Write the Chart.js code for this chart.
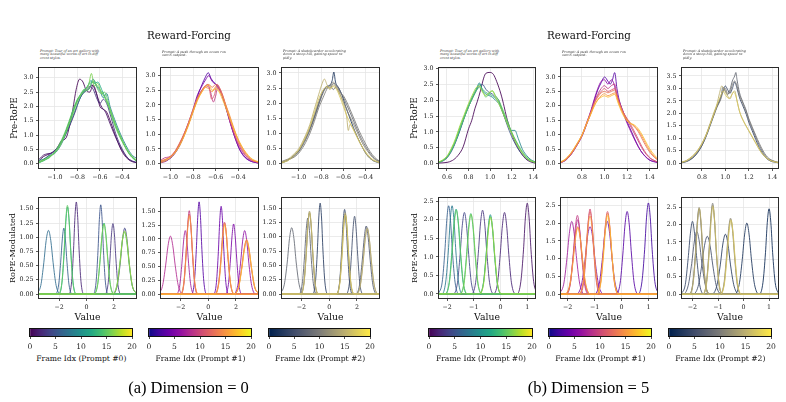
<!DOCTYPE html>
<html><head><meta charset="utf-8">
<script src="https://cdn.jsdelivr.net/npm/chart.js@4.4.0/dist/chart.umd.min.js"></script>
<style>
html,body{margin:0;padding:0;background:#fff}
body{width:786px;height:402px;position:relative;overflow:hidden;font-family:"DejaVu Serif",serif;color:#111}
canvas{position:absolute}
.lbl{position:absolute;white-space:nowrap;line-height:1}
.prompt{position:absolute;white-space:pre;font-style:italic;font-size:6.7px;line-height:7.4px;color:#333;transform:scale(0.5);transform-origin:0 0}
</style></head><body>
<script>
// ---------------- tick values ----------------
const aPreXTicks=[-1.0,-0.8,-0.6,-0.4];
const aPreYTicks=[0,0.5,1.0,1.5,2.0,2.5,3.0];
const aRopeXTicks=[-2,0,2];
const aRopeYTicks=[0,0.25,0.5,0.75,1.0,1.25,1.5];
const bPre0XTicks=[0.6,0.8,1.0,1.2,1.4];
const bPreXTicks=[0.8,1.0,1.2,1.4];
const bPreYTicks=[0,0.5,1.0,1.5,2.0,2.5,3.0];
const bPre2YTicks=[0,0.5,1.0,1.5,2.0,2.5,3.0,3.5];
const bRopeXTicks=[-2,-1,0,1];
const bRopeYTicks=[0,0.5,1.0,1.5,2.0,2.5];
const cbarTicks=[0,5,10,15,20];
// axis limits [xmin,xmax,ymin,ymax]
const aPre0Lim=[-1.14,-0.28,-0.15,3.34], aPre1Lim=[-1.084,-0.224,-0.15,3.26], aPre2Lim=[-1.15,-0.28,-0.14,3.165];
const aRope0Lim=[-3.46,3.61,-0.07,1.69], aRope1Lim=[-3.41,3.59,-0.07,1.74], aRope2Lim=[-3.40,3.59,-0.07,1.68];
const bPre0Lim=[0.526,1.416,-0.137,3.02], bPre1Lim=[0.614,1.465,-0.15,3.31], bPre2Lim=[0.63,1.45,-0.19,3.82];
const bRope0Lim=[-2.30,1.29,-0.11,2.59], bRope1Lim=[-2.25,1.32,-0.11,2.71], bRope2Lim=[-2.41,1.35,-0.11,2.76];

const promptTexts=[
 "Prompt: Tour of an art gallery with\nmany beautiful works of art in diff\nerent styles.",
 "Prompt: A push through an ocean res\nearch outpost.",
 "Prompt: A skateboarder accelerating\ndown a steep hill, gaining speed ra\npidly."];
const cbarLabels=["Frame Idx (Prompt #0)","Frame Idx (Prompt #1)","Frame Idx (Prompt #2)"];

// ---------------- series: [frame index, [[x,y],...]] ----------------
const aPre0=[
[0,[[-1.14,0.1],[-1.1,0.25],[-1.06,0.32],[-1.02,0.4],[-0.98,0.55],[-0.94,0.8],[-0.9,0.9],[-0.87,1.3],[-0.84,1.9],[-0.81,2.6],[-0.78,2.95],[-0.75,2.85],[-0.72,2.55],[-0.69,2.5],[-0.66,2.75],[-0.63,2.45],[-0.6,2.0],[-0.57,1.9],[-0.54,1.8],[-0.5,1.4],[-0.46,0.95],[-0.42,0.55],[-0.38,0.28],[-0.33,0.1],[-0.28,0.04]]],
[1,[[-1.14,0.15],[-1.1,0.3],[-1.06,0.35],[-1.02,0.38],[-0.98,0.5],[-0.94,0.75],[-0.9,1.05],[-0.86,1.4],[-0.82,1.8],[-0.78,2.25],[-0.74,2.5],[-0.7,2.6],[-0.67,2.75],[-0.64,2.55],[-0.61,2.2],[-0.58,1.95],[-0.55,1.8],[-0.52,1.5],[-0.48,1.1],[-0.44,0.75],[-0.4,0.45],[-0.36,0.22],[-0.31,0.08],[-0.28,0.04]]],
[3,[[-1.14,0.05],[-1.08,0.2],[-1.02,0.4],[-0.97,0.6],[-0.92,0.95],[-0.88,1.35],[-0.84,1.8],[-0.8,2.2],[-0.76,2.45],[-0.72,2.6],[-0.69,2.7],[-0.66,2.6],[-0.63,2.3],[-0.6,2.1],[-0.57,2.25],[-0.54,2.1],[-0.5,1.6],[-0.46,1.05],[-0.42,0.65],[-0.38,0.35],[-0.34,0.15],[-0.28,0.05]]],
[9,[[-1.14,0.12],[-1.1,0.16],[-1.05,0.28],[-1.0,0.36],[-0.95,0.62],[-0.9,1.05],[-0.85,1.55],[-0.8,2.05],[-0.76,2.4],[-0.72,2.55],[-0.69,2.65],[-0.66,2.95],[-0.63,2.7],[-0.6,2.55],[-0.57,2.3],[-0.54,2.45],[-0.51,2.0],[-0.47,1.55],[-0.43,1.15],[-0.39,0.8],[-0.35,0.5],[-0.31,0.28],[-0.28,0.2]]],
[12,[[-1.14,0.03],[-1.08,0.15],[-1.03,0.3],[-0.98,0.5],[-0.93,0.85],[-0.88,1.35],[-0.83,1.95],[-0.79,2.3],[-0.75,2.5],[-0.71,2.7],[-0.68,2.9],[-0.65,2.8],[-0.62,2.85],[-0.58,2.55],[-0.55,2.3],[-0.52,2.0],[-0.48,1.55],[-0.44,1.15],[-0.4,0.8],[-0.36,0.48],[-0.32,0.25],[-0.28,0.1]]],
[14,[[-1.14,0.05],[-1.1,0.1],[-1.05,0.22],[-1.0,0.4],[-0.95,0.7],[-0.9,1.15],[-0.85,1.7],[-0.8,2.2],[-0.76,2.5],[-0.72,2.65],[-0.69,2.8],[-0.66,2.85],[-0.63,2.75],[-0.6,2.6],[-0.57,2.4],[-0.54,2.15],[-0.5,1.75],[-0.46,1.3],[-0.42,0.95],[-0.38,0.62],[-0.34,0.36],[-0.3,0.18],[-0.28,0.12]]],
[15,[[-1.14,0.08],[-1.1,0.14],[-1.05,0.2],[-1.0,0.42],[-0.95,0.75],[-0.9,1.2],[-0.85,1.75],[-0.8,2.25],[-0.77,2.4],[-0.74,2.6],[-0.71,2.55],[-0.68,2.75],[-0.65,2.9],[-0.62,2.6],[-0.59,2.45],[-0.56,2.5],[-0.53,2.2],[-0.5,1.7],[-0.46,1.25],[-0.42,0.9],[-0.38,0.6],[-0.34,0.33],[-0.3,0.16],[-0.28,0.1]]],
[16,[[-1.14,0.04],[-1.1,0.12],[-1.05,0.25],[-1.0,0.38],[-0.95,0.65],[-0.9,1.1],[-0.85,1.62],[-0.8,2.15],[-0.76,2.45],[-0.73,2.55],[-0.7,2.75],[-0.675,3.15],[-0.65,2.7],[-0.62,2.8],[-0.59,2.5],[-0.56,2.35],[-0.53,2.1],[-0.5,1.8],[-0.46,1.35],[-0.42,0.98],[-0.38,0.64],[-0.34,0.38],[-0.3,0.2],[-0.28,0.14]]]
];
const aPre1=[
[3,[[-1.084,0.05],[-1.04,0.1],[-1.0,0.18],[-0.96,0.35],[-0.92,0.6],[-0.88,0.95],[-0.84,1.35],[-0.8,1.8],[-0.76,2.3],[-0.72,2.7],[-0.69,2.95],[-0.665,3.1],[-0.64,2.9],[-0.61,2.75],[-0.58,2.65],[-0.55,2.4],[-0.52,2.05],[-0.49,1.65],[-0.46,1.25],[-0.43,0.9],[-0.4,0.6],[-0.36,0.32],[-0.32,0.16],[-0.28,0.07],[-0.224,0.02]]],
[5,[[-1.084,0.03],[-1.04,0.08],[-1.0,0.2],[-0.96,0.4],[-0.92,0.65],[-0.88,1.0],[-0.84,1.4],[-0.8,1.85],[-0.76,2.35],[-0.72,2.65],[-0.69,2.85],[-0.66,3.0],[-0.63,2.8],[-0.6,2.7],[-0.57,2.55],[-0.54,2.3],[-0.51,1.95],[-0.48,1.55],[-0.45,1.15],[-0.42,0.8],[-0.39,0.5],[-0.35,0.25],[-0.3,0.1],[-0.224,0.02]]],
[9,[[-1.084,0.12],[-1.05,0.2],[-1.02,0.22],[-0.98,0.3],[-0.94,0.5],[-0.9,0.8],[-0.86,1.15],[-0.82,1.55],[-0.78,2.0],[-0.74,2.4],[-0.7,2.6],[-0.67,2.7],[-0.645,2.45],[-0.62,2.1],[-0.6,2.3],[-0.58,2.6],[-0.56,2.5],[-0.53,2.2],[-0.5,1.8],[-0.47,1.4],[-0.44,1.05],[-0.41,0.75],[-0.37,0.45],[-0.33,0.24],[-0.28,0.1],[-0.224,0.04]]],
[11,[[-1.084,0.08],[-1.04,0.15],[-1.0,0.24],[-0.96,0.42],[-0.92,0.68],[-0.88,1.0],[-0.84,1.38],[-0.8,1.78],[-0.76,2.2],[-0.72,2.5],[-0.69,2.65],[-0.66,2.6],[-0.635,2.2],[-0.61,2.35],[-0.585,2.7],[-0.56,2.55],[-0.53,2.25],[-0.5,1.85],[-0.47,1.45],[-0.44,1.1],[-0.41,0.8],[-0.37,0.5],[-0.33,0.27],[-0.28,0.12],[-0.224,0.05]]],
[13,[[-1.084,0.06],[-1.04,0.14],[-1.0,0.25],[-0.96,0.42],[-0.92,0.7],[-0.88,1.02],[-0.84,1.4],[-0.8,1.85],[-0.76,2.25],[-0.72,2.5],[-0.69,2.65],[-0.66,2.7],[-0.63,2.6],[-0.6,2.7],[-0.57,2.6],[-0.54,2.35],[-0.51,2.0],[-0.48,1.65],[-0.45,1.3],[-0.42,0.98],[-0.39,0.7],[-0.35,0.42],[-0.31,0.22],[-0.27,0.1],[-0.224,0.05]]],
[15,[[-1.084,0.1],[-1.04,0.15],[-1.0,0.22],[-0.96,0.38],[-0.92,0.62],[-0.88,0.95],[-0.84,1.35],[-0.8,1.8],[-0.76,2.2],[-0.72,2.45],[-0.69,2.6],[-0.66,2.55],[-0.63,2.45],[-0.6,2.62],[-0.57,2.5],[-0.54,2.3],[-0.51,2.0],[-0.48,1.7],[-0.45,1.35],[-0.42,1.02],[-0.39,0.75],[-0.35,0.46],[-0.31,0.25],[-0.27,0.12],[-0.224,0.06]]],
[17,[[-1.084,0.04],[-1.04,0.1],[-1.0,0.2],[-0.96,0.36],[-0.92,0.6],[-0.88,0.92],[-0.84,1.3],[-0.8,1.75],[-0.76,2.15],[-0.72,2.45],[-0.69,2.62],[-0.66,2.68],[-0.63,2.5],[-0.6,2.55],[-0.57,2.45],[-0.54,2.2],[-0.51,1.9],[-0.48,1.6],[-0.45,1.3],[-0.42,1.0],[-0.39,0.74],[-0.35,0.48],[-0.31,0.28],[-0.27,0.14],[-0.224,0.07]]]
];
const aPre2=[
[2,[[-1.15,0.03],[-1.1,0.12],[-1.05,0.25],[-1.0,0.42],[-0.95,0.75],[-0.9,1.15],[-0.86,1.55],[-0.82,2.0],[-0.78,2.4],[-0.75,2.55],[-0.72,2.6],[-0.7,2.75],[-0.685,3.03],[-0.67,2.7],[-0.64,2.5],[-0.61,2.25],[-0.58,1.9],[-0.55,1.6],[-0.51,1.2],[-0.47,0.85],[-0.43,0.55],[-0.39,0.3],[-0.34,0.12],[-0.28,0.03]]],
[8,[[-1.15,0.05],[-1.1,0.12],[-1.05,0.22],[-1.0,0.4],[-0.95,0.7],[-0.9,1.1],[-0.86,1.5],[-0.82,1.95],[-0.78,2.35],[-0.75,2.55],[-0.72,2.5],[-0.69,2.65],[-0.66,2.6],[-0.63,2.4],[-0.6,2.2],[-0.57,1.95],[-0.54,1.7],[-0.5,1.35],[-0.46,1.0],[-0.42,0.7],[-0.38,0.45],[-0.34,0.25],[-0.3,0.12],[-0.28,0.08]]],
[10,[[-1.15,0.08],[-1.1,0.15],[-1.05,0.2],[-1.0,0.35],[-0.95,0.62],[-0.9,1.0],[-0.86,1.4],[-0.82,1.85],[-0.78,2.2],[-0.75,2.45],[-0.72,2.6],[-0.69,2.45],[-0.66,2.55],[-0.63,2.35],[-0.6,2.25],[-0.57,2.05],[-0.54,1.8],[-0.5,1.45],[-0.46,1.1],[-0.42,0.8],[-0.38,0.52],[-0.34,0.3],[-0.3,0.15],[-0.28,0.1]]],
[11,[[-1.15,0.04],[-1.1,0.1],[-1.05,0.25],[-1.0,0.45],[-0.95,0.78],[-0.9,1.2],[-0.86,1.62],[-0.82,2.05],[-0.78,2.4],[-0.75,2.5],[-0.72,2.55],[-0.69,2.7],[-0.66,2.5],[-0.63,2.3],[-0.6,2.05],[-0.57,1.8],[-0.54,1.55],[-0.5,1.25],[-0.46,0.92],[-0.42,0.62],[-0.38,0.4],[-0.34,0.22],[-0.3,0.1],[-0.28,0.07]]],
[15,[[-1.15,0.06],[-1.1,0.14],[-1.05,0.3],[-1.0,0.5],[-0.95,0.85],[-0.9,1.3],[-0.86,1.8],[-0.82,2.3],[-0.79,2.65],[-0.77,2.8],[-0.745,2.6],[-0.72,2.45],[-0.69,2.6],[-0.66,2.5],[-0.63,2.3],[-0.6,2.0],[-0.57,1.55],[-0.555,1.1],[-0.54,1.3],[-0.51,1.15],[-0.47,0.85],[-0.43,0.55],[-0.39,0.3],[-0.34,0.12],[-0.28,0.04]]],
[17,[[-1.15,0.03],[-1.1,0.1],[-1.05,0.24],[-1.0,0.45],[-0.95,0.78],[-0.9,1.22],[-0.86,1.68],[-0.82,2.15],[-0.78,2.45],[-0.75,2.55],[-0.72,2.5],[-0.69,2.55],[-0.66,2.45],[-0.63,2.2],[-0.6,1.9],[-0.57,1.6],[-0.54,1.35],[-0.5,1.05],[-0.46,0.75],[-0.42,0.5],[-0.38,0.3],[-0.34,0.15],[-0.28,0.05]]]
];
const aRope0=[
[2,[[-3.46,0],[-1.28,0],[-1.08,.22],[-0.94,.79],[-0.84,1.35],[-0.74,1.62],[-0.64,1.35],[-0.54,.79],[-0.4,.22],[-0.2,0],[3.61,0]]],
[3,[[-3.46,0],[1.35,0],[1.57,.17],[1.71,.6],[1.82,1.04],[1.93,1.24],[2.04,1.04],[2.15,.6],[2.29,.17],[2.51,0],[3.61,0]]],
[4,[[-3.46,0],[1.93,0],[2.25,.16],[2.47,.56],[2.63,.97],[2.79,1.16],[2.95,.97],[3.11,.56],[3.33,.16],[3.65,0]]],
[5,[[-3.46,0],[0.5,0],[0.7,.21],[0.84,.76],[0.94,1.31],[1.04,1.57],[1.14,1.31],[1.24,.76],[1.38,.21],[1.58,0],[3.61,0]]],
[6,[[-3.46,0],[-2.26,0],[-2.03,.16],[-1.88,.56],[-1.76,.97],[-1.65,1.16],[-1.54,.97],[-1.42,.56],[-1.27,.16],[-1.04,0],[3.61,0]]],
[7,[[-3.67,0],[-3.33,.15],[-3.11,.55],[-2.94,.94],[-2.77,1.12],[-2.6,.94],[-2.43,.55],[-2.21,.15],[-1.87,0],[3.61,0]]],
[12,[[-3.46,0],[-2.02,0],[-1.78,.21],[-1.62,.75],[-1.5,1.28],[-1.38,1.53],[-1.26,1.28],[-1.14,.75],[-0.98,.21],[-0.74,0],[3.61,0]]],
[15,[[-3.46,0],[-2.03,0],[-1.79,.21],[-1.63,.76],[-1.51,1.3],[-1.39,1.56],[-1.27,1.3],[-1.15,.76],[-0.99,.21],[-0.75,0],[3.61,0]]],
[13,[[-3.46,0],[0.54,0],[0.82,.17],[1.0,.61],[1.14,1.04],[1.28,1.25],[1.42,1.04],[1.56,.61],[1.74,.17],[2.02,0],[3.61,0]]],
[16,[[-3.46,0],[0.53,0],[0.81,.17],[0.99,.6],[1.13,1.03],[1.27,1.23],[1.41,1.03],[1.55,.6],[1.73,.17],[2.01,0],[3.61,0]]],
[14,[[-3.46,0],[1.87,0],[2.21,.15],[2.43,.53],[2.6,.91],[2.77,1.09],[2.94,.91],[3.11,.53],[3.33,.15],[3.67,0]]],
[17,[[-3.46,0],[1.88,0],[2.22,.15],[2.44,.54],[2.61,.93],[2.78,1.11],[2.95,.93],[3.12,.54],[3.34,.15],[3.68,0]]]
];
const aRope1=[
[3,[[-3.41,0],[-1.2,0],[-1.0,.23],[-0.86,.81],[-0.76,1.39],[-0.66,1.67],[-0.56,1.39],[-0.46,.81],[-0.32,.23],[-0.12,0],[3.59,0]]],
[4,[[-3.41,0],[0.39,0],[0.59,.21],[0.73,.77],[0.83,1.33],[0.93,1.59],[1.03,1.33],[1.13,.77],[1.27,.21],[1.47,0],[3.59,0]]],
[5,[[-3.41,0],[1.22,0],[1.45,.17],[1.6,.62],[1.72,1.06],[1.83,1.27],[1.94,1.06],[2.06,.62],[2.21,.17],[2.44,0],[3.59,0]]],
[6,[[-3.41,0],[1.83,0],[2.13,.16],[2.33,.56],[2.48,.96],[2.63,1.15],[2.78,.96],[2.93,.56],[3.13,.16],[3.43,0],[3.59,0]]],
[7,[[-3.41,0],[-2.3,0],[-2.06,.16],[-1.9,.56],[-1.78,.96],[-1.66,1.15],[-1.54,.96],[-1.42,.56],[-1.26,.16],[-1.02,0],[3.59,0]]],
[8,[[-3.66,0],[-3.31,.14],[-3.08,.51],[-2.9,.88],[-2.73,1.05],[-2.56,.88],[-2.38,.51],[-2.15,.14],[-1.8,0],[3.59,0]]],
[9,[[-3.41,0],[-1.98,0],[-1.75,.2],[-1.6,.74],[-1.48,1.26],[-1.37,1.51],[-1.26,1.26],[-1.14,.74],[-0.99,.2],[-0.76,0],[3.59,0]]],
[10,[[-3.41,0],[0.47,0],[0.73,.18],[0.91,.63],[1.04,1.09],[1.17,1.3],[1.3,1.09],[1.43,.63],[1.61,.18],[1.87,0],[3.59,0]]],
[11,[[-3.41,0],[1.83,0],[2.18,.13],[2.41,.47],[2.59,.81],[2.76,.97],[2.93,.81],[3.11,.47],[3.34,.13],[3.69,0]]],
[12,[[-3.41,0],[-2.01,0],[-1.77,.2],[-1.61,.71],[-1.49,1.21],[-1.37,1.45],[-1.25,1.21],[-1.13,.71],[-0.97,.2],[-0.73,0],[3.59,0]]],
[15,[[-3.41,0],[-2.0,0],[-1.76,.19],[-1.6,.69],[-1.48,1.19],[-1.36,1.42],[-1.24,1.19],[-1.12,.69],[-0.96,.19],[-0.72,0],[3.59,0]]],
[13,[[-3.41,0],[0.48,0],[0.74,.17],[0.92,.63],[1.05,1.08],[1.18,1.29],[1.31,1.08],[1.44,.63],[1.62,.17],[1.88,0],[3.59,0]]],
[16,[[-3.41,0],[0.49,0],[0.75,.17],[0.93,.61],[1.06,1.05],[1.19,1.26],[1.32,1.05],[1.45,.61],[1.63,.17],[1.89,0],[3.59,0]]],
[14,[[-3.41,0],[1.84,0],[2.19,.13],[2.42,.48],[2.6,.83],[2.77,.99],[2.94,.83],[3.12,.48],[3.35,.13],[3.7,0]]],
[17,[[-3.41,0],[1.85,0],[2.2,.13],[2.43,.47],[2.61,.8],[2.78,.96],[2.95,.8],[3.13,.47],[3.36,.13],[3.71,0]]]
];
const aRope2=[
[3,[[-3.4,0],[-1.19,0],[-0.99,.21],[-0.85,.77],[-0.75,1.33],[-0.65,1.59],[-0.55,1.33],[-0.45,.77],[-0.31,.21],[-0.11,0],[3.59,0]]],
[4,[[-3.4,0],[0.53,0],[0.75,.2],[0.89,.72],[1.0,1.24],[1.11,1.48],[1.22,1.24],[1.33,.72],[1.47,.2],[1.69,0],[3.59,0]]],
[5,[[-3.4,0],[1.22,0],[1.45,.18],[1.6,.66],[1.72,1.14],[1.83,1.36],[1.94,1.14],[2.06,.66],[2.21,.18],[2.44,0],[3.59,0]]],
[6,[[-3.4,0],[1.9,0],[2.19,.16],[2.38,.58],[2.53,.99],[2.67,1.19],[2.81,.99],[2.96,.58],[3.15,.16],[3.44,0],[3.59,0]]],
[7,[[-3.4,0],[-2.18,0],[-1.94,.18],[-1.78,.65],[-1.66,1.11],[-1.54,1.33],[-1.42,1.11],[-1.3,.65],[-1.14,.18],[-0.9,0],[3.59,0]]],
[8,[[-3.56,0],[-3.24,.16],[-3.02,.56],[-2.86,.97],[-2.7,1.16],[-2.54,.97],[-2.38,.56],[-2.16,.16],[-1.84,0],[3.59,0]]],
[10,[[-3.4,0],[-2.06,0],[-1.82,.19],[-1.66,.69],[-1.54,1.19],[-1.42,1.42],[-1.3,1.19],[-1.18,.69],[-1.02,.19],[-0.78,0],[3.59,0]]],
[13,[[-3.4,0],[-2.06,0],[-1.82,.2],[-1.66,.71],[-1.54,1.21],[-1.42,1.45],[-1.3,1.21],[-1.18,.71],[-1.02,.2],[-0.78,0],[3.59,0]]],
[16,[[-3.4,0],[-2.05,0],[-1.81,.19],[-1.65,.7],[-1.53,1.19],[-1.41,1.43],[-1.29,1.19],[-1.17,.7],[-1.01,.19],[-0.77,0],[3.59,0]]],
[11,[[-3.4,0],[0.51,0],[0.75,.19],[0.91,.68],[1.03,1.17],[1.15,1.4],[1.27,1.17],[1.39,.68],[1.55,.19],[1.79,0],[3.59,0]]],
[14,[[-3.4,0],[0.52,0],[0.76,.19],[0.92,.69],[1.04,1.19],[1.16,1.42],[1.28,1.19],[1.4,.69],[1.56,.19],[1.8,0],[3.59,0]]],
[17,[[-3.4,0],[0.53,0],[0.77,.19],[0.93,.67],[1.05,1.15],[1.17,1.38],[1.29,1.15],[1.41,.67],[1.57,.19],[1.81,0],[3.59,0]]],
[12,[[-3.4,0],[1.94,0],[2.24,.16],[2.44,.56],[2.59,.97],[2.74,1.16],[2.89,.97],[3.04,.56],[3.24,.16],[3.54,0],[3.59,0]]],
[15,[[-3.4,0],[1.95,0],[2.25,.15],[2.45,.56],[2.6,.95],[2.75,1.14],[2.9,.95],[3.05,.56],[3.25,.15],[3.55,0],[3.59,0]]]
];
const bPre0=[
[0,[[0.526,0.02],[0.6,0.04],[0.65,0.1],[0.7,0.25],[0.75,0.53],[0.8,1.1],[0.83,1.37],[0.86,1.75],[0.88,1.95],[0.91,2.3],[0.94,2.7],[0.96,2.85],[1.0,2.88],[1.03,2.82],[1.06,2.6],[1.1,2.2],[1.13,1.8],[1.15,1.5],[1.18,1.15],[1.2,0.95],[1.245,0.58],[1.29,0.32],[1.33,0.15],[1.38,0.05],[1.416,0.02]]],
[5,[[0.526,0.03],[0.56,0.08],[0.6,0.18],[0.64,0.38],[0.68,0.68],[0.72,1.05],[0.76,1.45],[0.8,1.8],[0.84,2.1],[0.87,2.3],[0.9,2.45],[0.93,2.5],[0.96,2.35],[0.99,2.25],[1.02,2.2],[1.05,2.1],[1.08,2.0],[1.1,1.8],[1.13,1.5],[1.16,1.2],[1.2,0.85],[1.24,0.58],[1.28,0.36],[1.32,0.2],[1.36,0.1],[1.416,0.03]]],
[9,[[0.526,0.05],[0.56,0.1],[0.6,0.2],[0.64,0.4],[0.68,0.7],[0.72,1.05],[0.76,1.45],[0.8,1.8],[0.84,2.1],[0.87,2.3],[0.9,2.55],[0.93,2.3],[0.96,2.2],[0.99,2.15],[1.02,2.1],[1.05,2.0],[1.08,1.9],[1.1,1.75],[1.13,1.5],[1.16,1.25],[1.2,1.05],[1.23,1.05],[1.26,0.8],[1.3,0.45],[1.34,0.25],[1.38,0.12],[1.416,0.06]]],
[13,[[0.526,0.05],[0.56,0.1],[0.6,0.22],[0.64,0.45],[0.68,0.75],[0.72,1.15],[0.76,1.5],[0.8,1.85],[0.84,2.15],[0.87,2.35],[0.9,2.5],[0.93,2.35],[0.96,2.25],[0.99,2.2],[1.02,2.15],[1.05,2.05],[1.08,1.95],[1.1,1.8],[1.13,1.55],[1.16,1.3],[1.2,0.98],[1.24,0.7],[1.28,0.45],[1.32,0.25],[1.36,0.12],[1.416,0.04]]],
[15,[[0.526,0.04],[0.56,0.09],[0.6,0.2],[0.64,0.42],[0.68,0.72],[0.72,1.1],[0.76,1.45],[0.8,1.8],[0.84,2.1],[0.87,2.3],[0.9,2.4],[0.93,2.3],[0.96,2.1],[0.99,2.2],[1.02,2.3],[1.05,2.15],[1.08,2.0],[1.1,1.85],[1.13,1.6],[1.16,1.35],[1.2,1.0],[1.24,0.72],[1.28,0.48],[1.32,0.28],[1.36,0.14],[1.416,0.05]]],
[17,[[0.526,0.06],[0.56,0.12],[0.6,0.24],[0.64,0.48],[0.68,0.8],[0.72,1.2],[0.76,1.55],[0.8,1.9],[0.84,2.2],[0.87,2.4],[0.9,2.45],[0.93,2.25],[0.96,2.15],[0.99,2.25],[1.02,2.3],[1.05,2.1],[1.08,1.9],[1.1,1.75],[1.13,1.5],[1.16,1.25],[1.2,0.95],[1.24,0.65],[1.28,0.42],[1.32,0.23],[1.36,0.11],[1.416,0.04]]]
];
const bPre1=[
[3,[[0.614,0.04],[0.65,0.1],[0.7,0.3],[0.75,0.6],[0.8,0.95],[0.84,1.35],[0.88,1.8],[0.91,2.2],[0.94,2.55],[0.97,2.8],[1.0,3.0],[1.03,2.85],[1.05,2.75],[1.07,2.9],[1.09,3.15],[1.11,2.6],[1.13,2.2],[1.16,1.85],[1.2,1.45],[1.24,1.1],[1.28,0.75],[1.32,0.45],[1.36,0.25],[1.4,0.12],[1.465,0.04]]],
[6,[[0.614,0.05],[0.65,0.12],[0.7,0.32],[0.75,0.62],[0.8,0.98],[0.84,1.4],[0.88,1.85],[0.91,2.25],[0.94,2.6],[0.97,2.85],[1.0,2.9],[1.03,2.75],[1.06,2.9],[1.08,2.8],[1.1,2.5],[1.13,2.15],[1.16,1.8],[1.2,1.4],[1.24,1.05],[1.28,0.72],[1.32,0.45],[1.36,0.26],[1.4,0.13],[1.465,0.05]]],
[9,[[0.614,0.05],[0.65,0.12],[0.7,0.33],[0.75,0.62],[0.8,0.98],[0.84,1.38],[0.88,1.8],[0.91,2.15],[0.94,2.4],[0.97,2.6],[1.0,2.7],[1.03,2.6],[1.06,2.7],[1.09,2.75],[1.11,2.4],[1.14,2.05],[1.17,1.75],[1.21,1.45],[1.25,1.15],[1.29,0.85],[1.33,0.55],[1.37,0.32],[1.41,0.17],[1.465,0.06]]],
[11,[[0.614,0.04],[0.65,0.11],[0.7,0.3],[0.75,0.6],[0.8,0.96],[0.84,1.35],[0.88,1.75],[0.91,2.1],[0.94,2.35],[0.97,2.5],[1.0,2.6],[1.03,2.5],[1.06,2.55],[1.09,2.6],[1.11,2.35],[1.14,2.0],[1.17,1.75],[1.21,1.5],[1.25,1.22],[1.29,0.92],[1.33,0.6],[1.37,0.35],[1.41,0.18],[1.465,0.07]]],
[13,[[0.614,0.06],[0.65,0.14],[0.7,0.35],[0.75,0.65],[0.8,1.0],[0.84,1.4],[0.88,1.8],[0.91,2.1],[0.94,2.3],[0.97,2.45],[1.0,2.5],[1.03,2.45],[1.06,2.5],[1.09,2.55],[1.12,2.2],[1.15,1.9],[1.18,1.65],[1.22,1.45],[1.26,1.3],[1.3,1.1],[1.34,0.8],[1.38,0.52],[1.42,0.3],[1.465,0.14]]],
[15,[[0.614,0.05],[0.65,0.12],[0.7,0.33],[0.75,0.62],[0.8,0.97],[0.84,1.36],[0.88,1.75],[0.91,2.02],[0.94,2.22],[0.97,2.35],[1.0,2.42],[1.03,2.35],[1.06,2.4],[1.09,2.45],[1.12,2.15],[1.15,1.85],[1.18,1.62],[1.22,1.42],[1.26,1.32],[1.3,1.15],[1.34,0.88],[1.38,0.58],[1.42,0.34],[1.465,0.16]]],
[17,[[0.614,0.07],[0.65,0.15],[0.7,0.36],[0.75,0.66],[0.8,1.0],[0.84,1.38],[0.88,1.72],[0.91,2.0],[0.94,2.2],[0.97,2.3],[1.0,2.35],[1.03,2.3],[1.06,2.35],[1.09,2.4],[1.12,2.1],[1.15,1.8],[1.18,1.58],[1.22,1.4],[1.26,1.35],[1.3,1.2],[1.34,0.95],[1.38,0.65],[1.42,0.4],[1.465,0.2]]]
];
const bPre2=[
[4,[[0.63,0.02],[0.67,0.07],[0.72,0.2],[0.76,0.4],[0.8,0.7],[0.84,1.12],[0.87,1.5],[0.9,1.9],[0.93,2.3],[0.96,2.65],[0.98,2.9],[1.0,3.1],[1.02,2.95],[1.04,2.8],[1.06,3.0],[1.08,3.25],[1.1,3.0],[1.12,2.65],[1.15,2.3],[1.18,1.95],[1.2,1.65],[1.23,1.3],[1.26,0.95],[1.29,0.62],[1.32,0.38],[1.35,0.2],[1.39,0.08],[1.45,0.02]]],
[8,[[0.63,0.03],[0.67,0.08],[0.72,0.22],[0.76,0.42],[0.8,0.72],[0.84,1.15],[0.87,1.55],[0.9,1.95],[0.93,2.3],[0.96,2.6],[0.98,3.05],[1.0,2.9],[1.02,2.75],[1.04,2.95],[1.06,3.3],[1.08,3.5],[1.09,3.64],[1.1,3.35],[1.12,2.85],[1.15,2.45],[1.18,2.1],[1.2,1.75],[1.23,1.4],[1.26,1.05],[1.29,0.72],[1.32,0.45],[1.35,0.25],[1.39,0.12],[1.45,0.03]]],
[10,[[0.63,0.04],[0.67,0.1],[0.72,0.25],[0.76,0.46],[0.8,0.76],[0.84,1.18],[0.87,1.55],[0.9,1.9],[0.93,2.25],[0.96,2.55],[0.98,2.85],[1.0,3.0],[1.02,2.8],[1.04,2.85],[1.06,3.15],[1.08,3.3],[1.1,3.1],[1.12,2.75],[1.15,2.4],[1.18,2.05],[1.2,1.8],[1.23,1.45],[1.26,1.12],[1.29,0.8],[1.32,0.52],[1.35,0.3],[1.39,0.14],[1.45,0.04]]],
[15,[[0.63,0.05],[0.67,0.12],[0.72,0.3],[0.76,0.5],[0.8,0.8],[0.84,1.2],[0.87,1.6],[0.9,2.0],[0.93,2.4],[0.95,2.8],[0.97,3.1],[0.99,2.95],[1.02,2.7],[1.04,2.58],[1.06,2.8],[1.08,2.9],[1.1,2.5],[1.12,2.1],[1.14,1.85],[1.17,1.55],[1.2,1.3],[1.23,1.05],[1.26,0.8],[1.29,0.55],[1.32,0.35],[1.36,0.18],[1.4,0.08],[1.45,0.03]]],
[17,[[0.63,0.04],[0.67,0.1],[0.72,0.27],[0.76,0.48],[0.8,0.78],[0.84,1.17],[0.87,1.55],[0.9,1.95],[0.93,2.35],[0.96,2.7],[0.98,2.9],[1.0,2.75],[1.03,2.6],[1.05,2.7],[1.07,2.85],[1.09,2.7],[1.11,2.3],[1.13,1.95],[1.16,1.65],[1.19,1.4],[1.22,1.15],[1.25,0.9],[1.28,0.65],[1.31,0.42],[1.35,0.22],[1.39,0.1],[1.45,0.03]]]
];
const bRope0=[
[1,[[-2.3,0],[0.62,0],[0.76,.33],[0.86,1.19],[0.93,2.05],[1.0,2.45],[1.07,2.05],[1.14,1.19],[1.24,.33],[1.38,0]]],
[2,[[-2.3,0],[-0.27,0],[-0.11,.3],[-0.01,1.07],[0.07,1.84],[0.15,2.2],[0.23,1.84],[0.31,1.07],[0.41,.3],[0.57,0],[1.29,0]]],
[3,[[-2.3,0],[-1.09,0],[-0.93,.31],[-0.83,1.1],[-0.75,1.89],[-0.67,2.26],[-0.59,1.89],[-0.51,1.1],[-0.41,.31],[-0.25,0],[1.29,0]]],
[4,[[-2.3,0],[-1.77,0],[-1.61,.3],[-1.51,1.07],[-1.43,1.84],[-1.35,2.2],[-1.27,1.84],[-1.19,1.07],[-1.09,.3],[-0.93,0],[1.29,0]]],
[6,[[-2.32,0],[-2.18,.32],[-2.08,1.16],[-2.01,1.99],[-1.94,2.38],[-1.87,1.99],[-1.8,1.16],[-1.7,.32],[-1.56,0],[1.29,0]]],
[8,[[-2.3,0],[-2.19,0],[-2.05,.32],[-1.95,1.16],[-1.88,1.99],[-1.81,2.38],[-1.74,1.99],[-1.67,1.16],[-1.57,.32],[-1.43,0],[1.29,0]]],
[10,[[-2.3,0],[-0.8,0],[-0.64,.29],[-0.54,1.04],[-0.46,1.79],[-0.38,2.14],[-0.3,1.79],[-0.22,1.04],[-0.12,.29],[0.04,0],[1.29,0]]],
[12,[[-2.3,0],[-2.08,0],[-1.92,.31],[-1.82,1.12],[-1.74,1.91],[-1.66,2.29],[-1.58,1.91],[-1.5,1.12],[-1.4,.31],[-1.24,0],[1.29,0]]],
[15,[[-2.3,0],[-2.07,0],[-1.91,.31],[-1.81,1.1],[-1.73,1.89],[-1.65,2.26],[-1.57,1.89],[-1.49,1.1],[-1.39,.31],[-1.23,0],[1.29,0]]],
[13,[[-2.3,0],[-1.53,0],[-1.37,.29],[-1.27,1.06],[-1.19,1.81],[-1.11,2.17],[-1.03,1.81],[-0.95,1.06],[-0.85,.29],[-0.69,0],[1.29,0]]],
[16,[[-2.3,0],[-1.52,0],[-1.36,.29],[-1.26,1.05],[-1.18,1.8],[-1.1,2.15],[-1.02,1.8],[-0.94,1.05],[-0.84,.29],[-0.68,0],[1.29,0]]],
[14,[[-2.3,0],[-0.8,0],[-0.64,.28],[-0.54,1.02],[-0.46,1.75],[-0.38,2.09],[-0.3,1.75],[-0.22,1.02],[-0.12,.28],[0.04,0],[1.29,0]]],
[17,[[-2.3,0],[-0.79,0],[-0.63,.28],[-0.53,1.01],[-0.45,1.73],[-0.37,2.07],[-0.29,1.73],[-0.21,1.01],[-0.11,.28],[0.05,0],[1.29,0]]]
];
const bRope1=[
[2,[[-2.25,0],[0.62,0],[0.76,.35],[0.86,1.25],[0.93,2.15],[1.0,2.57],[1.07,2.15],[1.14,1.25],[1.24,.35],[1.38,0]]],
[3,[[-2.25,0],[-0.21,0],[-0.05,.31],[0.05,1.13],[0.13,1.95],[0.21,2.33],[0.29,1.95],[0.37,1.13],[0.47,.31],[0.63,0],[1.32,0]]],
[4,[[-2.25,0],[-1.01,0],[-0.83,.28],[-0.71,1.0],[-0.62,1.71],[-0.53,2.05],[-0.44,1.71],[-0.35,1.0],[-0.23,.28],[-0.05,0],[1.32,0]]],
[5,[[-2.25,0],[-1.68,0],[-1.49,.26],[-1.36,.93],[-1.27,1.59],[-1.17,1.9],[-1.07,1.59],[-0.98,.93],[-0.85,.26],[-0.66,0],[1.32,0]]],
[7,[[-2.33,0],[-2.15,.28],[-2.03,1.0],[-1.94,1.71],[-1.85,2.05],[-1.76,1.71],[-1.67,1.0],[-1.55,.28],[-1.37,0],[1.32,0]]],
[8,[[-2.25,0],[-2.08,0],[-1.91,.28],[-1.8,1.02],[-1.71,1.75],[-1.63,2.1],[-1.55,1.75],[-1.46,1.02],[-1.35,.28],[-1.18,0],[1.32,0]]],
[9,[[-2.25,0],[-2.06,0],[-1.9,.3],[-1.8,1.08],[-1.72,1.85],[-1.64,2.22],[-1.56,1.85],[-1.48,1.08],[-1.38,.3],[-1.22,0],[1.32,0]]],
[10,[[-2.25,0],[-1.55,0],[-1.41,.32],[-1.31,1.17],[-1.24,2.0],[-1.17,2.4],[-1.1,2.0],[-1.03,1.17],[-0.93,.32],[-0.79,0],[1.32,0]]],
[11,[[-2.25,0],[-0.94,0],[-0.78,.31],[-0.68,1.13],[-0.6,1.95],[-0.52,2.33],[-0.44,1.95],[-0.36,1.13],[-0.26,.31],[-0.1,0],[1.32,0]]],
[13,[[-2.25,0],[-2.11,0],[-1.93,.26],[-1.81,.93],[-1.72,1.59],[-1.63,1.9],[-1.54,1.59],[-1.45,.93],[-1.33,.26],[-1.15,0],[1.32,0]]],
[16,[[-2.25,0],[-2.1,0],[-1.92,.25],[-1.8,.92],[-1.71,1.57],[-1.62,1.88],[-1.53,1.57],[-1.44,.92],[-1.32,.25],[-1.14,0],[1.32,0]]],
[12,[[-2.25,0],[-1.59,0],[-1.43,.31],[-1.33,1.13],[-1.25,1.95],[-1.17,2.33],[-1.09,1.95],[-1.01,1.13],[-0.91,.31],[-0.75,0],[1.32,0]]],
[15,[[-2.25,0],[-1.59,0],[-1.43,.3],[-1.33,1.07],[-1.25,1.84],[-1.17,2.2],[-1.09,1.84],[-1.01,1.07],[-0.91,.3],[-0.75,0],[1.32,0]]],
[14,[[-2.25,0],[-0.94,0],[-0.78,.31],[-0.68,1.11],[-0.6,1.9],[-0.52,2.28],[-0.44,1.9],[-0.36,1.11],[-0.26,.31],[-0.1,0],[1.32,0]]],
[17,[[-2.25,0],[-0.93,0],[-0.77,.3],[-0.67,1.08],[-0.59,1.85],[-0.51,2.22],[-0.43,1.85],[-0.35,1.08],[-0.25,.3],[-0.09,0],[1.32,0]]]
];
const bRope2=[
[1,[[-2.41,0],[0.62,0],[0.76,.33],[0.86,1.19],[0.93,2.05],[1.0,2.45],[1.07,2.05],[1.14,1.19],[1.24,.33],[1.38,0]]],
[2,[[-2.41,0],[-0.35,0],[-0.17,.28],[-0.05,.99],[0.04,1.7],[0.13,2.04],[0.22,1.7],[0.31,.99],[0.43,.28],[0.61,0],[1.35,0]]],
[3,[[-2.41,0],[-1.25,0],[-1.05,.23],[-0.91,.84],[-0.81,1.44],[-0.71,1.72],[-0.61,1.44],[-0.51,.84],[-0.37,.23],[-0.17,0],[1.35,0]]],
[4,[[-2.45,0],[-2.28,.28],[-2.17,1.02],[-2.08,1.75],[-2.0,2.09],[-1.92,1.75],[-1.83,1.02],[-1.72,.28],[-1.55,0],[1.35,0]]],
[5,[[-2.41,0],[-2.0,0],[-1.78,.22],[-1.64,.81],[-1.53,1.39],[-1.42,1.66],[-1.31,1.39],[-1.2,.81],[-1.06,.22],[-0.84,0],[1.35,0]]],
[6,[[-2.41,0],[-2.37,0],[-2.17,.24],[-2.03,.88],[-1.93,1.5],[-1.83,1.8],[-1.73,1.5],[-1.63,.88],[-1.49,.24],[-1.29,0],[1.35,0]]],
[9,[[-2.41,0],[-2.12,0],[-1.98,.33],[-1.88,1.19],[-1.81,2.05],[-1.74,2.45],[-1.67,2.05],[-1.6,1.19],[-1.5,.33],[-1.36,0],[1.35,0]]],
[10,[[-2.41,0],[-1.59,0],[-1.45,.35],[-1.35,1.27],[-1.28,2.18],[-1.21,2.61],[-1.14,2.18],[-1.07,1.27],[-0.97,.35],[-0.83,0],[1.35,0]]],
[11,[[-2.41,0],[-0.93,0],[-0.77,.29],[-0.67,1.06],[-0.59,1.82],[-0.51,2.18],[-0.43,1.82],[-0.35,1.06],[-0.25,.29],[-0.09,0],[1.35,0]]],
[12,[[-2.41,0],[-2.12,0],[-1.98,.34],[-1.88,1.21],[-1.81,2.08],[-1.74,2.49],[-1.67,2.08],[-1.6,1.21],[-1.5,.34],[-1.36,0],[1.35,0]]],
[15,[[-2.41,0],[-2.11,0],[-1.97,.33],[-1.87,1.2],[-1.8,2.05],[-1.73,2.46],[-1.66,2.05],[-1.59,1.2],[-1.49,.33],[-1.35,0],[1.35,0]]],
[13,[[-2.41,0],[-1.59,0],[-1.45,.34],[-1.35,1.24],[-1.28,2.13],[-1.21,2.55],[-1.14,2.13],[-1.07,1.24],[-0.97,.34],[-0.83,0],[1.35,0]]],
[16,[[-2.41,0],[-1.58,0],[-1.44,.34],[-1.34,1.23],[-1.27,2.1],[-1.2,2.52],[-1.13,2.1],[-1.06,1.23],[-0.96,.34],[-0.82,0],[1.35,0]]],
[14,[[-2.41,0],[-0.92,0],[-0.76,.29],[-0.66,1.05],[-0.58,1.8],[-0.5,2.15],[-0.42,1.8],[-0.34,1.05],[-0.24,.29],[-0.08,0],[1.35,0]]],
[17,[[-2.41,0],[-0.91,0],[-0.75,.29],[-0.65,1.03],[-0.57,1.77],[-0.49,2.12],[-0.41,1.77],[-0.33,1.03],[-0.23,.29],[-0.07,0],[1.35,0]]]
];

// ---------------- styling ----------------
const VIRIDIS=['#440154','#482475','#414487','#355f8d','#2a788e','#21918c','#22a884','#44bf70','#7ad151','#bddf26','#fde725'];
const PLASMA=['#0d0887','#41049d','#6a00a8','#8f0da4','#b12a90','#cc4778','#e16462','#f2844b','#fca636','#fcce25','#f0f921'];
const CIVIDIS=['#00204d','#414d6b','#7c7b78','#bcaf6f','#ffea46'];
const MAXF=20;
function hex2rgb(h){return [1,3,5].map(i=>parseInt(h.substr(i,2),16));}
function cmap(stops,t,a){const n=stops.length-1,p=Math.min(Math.max(t,0),1)*n,i=Math.min(Math.floor(p),n-1),f=p-i;
 const c0=hex2rgb(stops[i]),c1=hex2rgb(stops[i+1]);const c=c0.map((v,k)=>Math.round(v+(c1[k]-v)*f));return `rgba(${c[0]},${c[1]},${c[2]},${a})`;}
function fmt(v,d){return (v<0?'\u2212':'')+Math.abs(v).toFixed(d);}
const framePlugin={id:'frame',afterDraw(c){const a=c.chartArea,x=c.ctx;x.save();x.strokeStyle=c.options.frameColor||'#2b2b2b';x.lineWidth=1;
 x.strokeRect(a.left-0.5,a.top-0.5,a.right-a.left+1,a.bottom-a.top+1);x.restore();}};

function axisOpts(min,max,ticks,dec,isX,size,fs){
 return {type:'linear',min,max,
  afterBuildTicks(s){s.ticks=ticks.map(v=>({value:v}));},
  afterFit(s){if(isX)s.height=size;else s.width=size;s.paddingLeft=s.paddingRight=s.paddingTop=s.paddingBottom=0;},
  grid:{color:'#e6e6e6',lineWidth:0.8,drawTicks:true,tickLength:3,tickColor:'#333',tickWidth:0.8},
  border:{display:false},
  ticks:{autoSkip:false,maxRotation:0,minRotation:0,padding:2.5,color:'#222',font:{family:'DejaVu Serif',size:fs},callback:v=>fmt(v,dec)}};
}
function makeAxes(p){
 const padL=30,padT=3,padR=5,padB=14;
 const cv=document.createElement('canvas');
 cv.width=padL+p.W+padR;cv.height=padT+p.H+padB;
 cv.style.left=(p.L-padL)+'px';cv.style.top=(p.T-padT)+'px';
 document.body.appendChild(cv);
 const ds=p.data.slice().sort((a,b)=>b[0]-a[0]).map(([f,pts])=>({
  data:pts.map(([x,y])=>({x,y})),borderColor:cmap(p.cmap,f/MAXF,0.85),borderWidth:1,
  pointRadius:0,showLine:true,fill:false,cubicInterpolationMode:'monotone'}));
 new Chart(cv,{type:'scatter',data:{datasets:ds},
  options:{responsive:false,animation:false,devicePixelRatio:1,events:[],
   layout:{padding:{left:0,top:padT,right:padR,bottom:0}},
   plugins:{legend:{display:false},tooltip:{enabled:false}},
   scales:{x:axisOpts(p.lim[0],p.lim[1],p.xt,p.xd,true,padB,6.3),
           y:axisOpts(p.lim[2],p.lim[3],p.yt,p.yd,false,padL,6.3)}},
  plugins:[framePlugin]});
}
function makeCbar(L,T,W,H,stops){
 const padL=6,padT=2,padR=8,padB=16;
 const cv=document.createElement('canvas');
 cv.width=padL+W+padR;cv.height=padT+H+padB;
 cv.style.left=(L-padL)+'px';cv.style.top=(T-padT)+'px';
 document.body.appendChild(cv);
 new Chart(cv,{type:'bar',data:{labels:['f'],datasets:[{data:[[cbarTicks[0],cbarTicks[cbarTicks.length-1]]],
   backgroundColor:(ctx)=>{const a=ctx.chart.chartArea;if(!a)return '#888';const g=ctx.chart.ctx.createLinearGradient(a.left,0,a.right,0);
     stops.forEach((c,i)=>g.addColorStop(i/(stops.length-1),c));return g;},
   barPercentage:1,categoryPercentage:1,borderWidth:0,borderSkipped:false}]},
  options:{indexAxis:'y',responsive:false,animation:false,devicePixelRatio:1,events:[],frameColor:'#111',
   layout:{padding:{left:padL,top:padT,right:padR,bottom:0}},
   plugins:{legend:{display:false},tooltip:{enabled:false}},
   scales:{x:{type:'linear',min:0,max:20,
      afterBuildTicks(s){s.ticks=cbarTicks.map(v=>({value:v}));},
      afterFit(s){s.height=padB;s.paddingLeft=s.paddingRight=0;},
      grid:{drawOnChartArea:false,drawTicks:true,tickLength:3,tickColor:'#222',tickWidth:0.8},border:{display:false},
      ticks:{autoSkip:false,maxRotation:0,padding:3,color:'#222',font:{family:'DejaVu Serif',size:7.6},callback:v=>String(v)}},
    y:{display:false}}},
  plugins:[framePlugin]});
}
function txt(s,cx,cy,css,rot){const d=document.createElement('div');d.className='lbl';d.textContent=s;Object.assign(d.style,css||{});
 d.style.left=cx+'px';d.style.top=cy+'px';d.style.transform='translate(-50%,-50%)'+(rot?' rotate(-90deg)':'');document.body.appendChild(d);}
function prompt(s,x,y){const d=document.createElement('div');d.className='prompt';d.textContent=s;d.style.left=x+'px';d.style.top=y+'px';document.body.appendChild(d);}

// ---------------- layout ----------------
const TOP_T=68,BOT_T=198,AX_H=100;
const groups=[
 {cols:[39,161,282],W:97,pre:[aPre0,aPre1,aPre2],rope:[aRope0,aRope1,aRope2],
  preLim:[aPre0Lim,aPre1Lim,aPre2Lim],ropeLim:[aRope0Lim,aRope1Lim,aRope2Lim],
  preXT:[aPreXTicks,aPreXTicks,aPreXTicks],preYT:[aPreYTicks,aPreYTicks,aPreYTicks],preYD:1,
  ropeXT:aRopeXTicks,ropeYT:aRopeYTicks,ropeYD:2,
  cbars:[[30,102.7],[149.3,102.4],[269.3,101.7]],title:[189,34.7],cap:["(a) Dimension = 0",188.5,388],
  ylab:[[14.3,118],[11.7,248]],promptY:[48.9,50.1,48.9]},
 {cols:[439,561,682],W:96,pre:[bPre0,bPre1,bPre2],rope:[bRope0,bRope1,bRope2],
  preLim:[bPre0Lim,bPre1Lim,bPre2Lim],ropeLim:[bRope0Lim,bRope1Lim,bRope2Lim],
  preXT:[bPre0XTicks,bPreXTicks,bPreXTicks],preYT:[bPreYTicks,bPreYTicks,bPre2YTicks],preYD:1,
  ropeXT:bRopeXTicks,ropeYT:bRopeYTicks,ropeYD:1,
  cbars:[[429.3,103.4],[549,102.7],[669,102.7]],title:[589,34.7],cap:["(b) Dimension = 5",588.5,388],
  ylab:[[414.3,118],[414.3,248]],promptY:[49.2,50.2,49.2]}
];
const maps=[VIRIDIS,PLASMA,CIVIDIS];
groups.forEach(g=>{
 for(let i=0;i<3;i++){
  makeAxes({data:g.pre[i],cmap:maps[i],L:g.cols[i],T:TOP_T,W:g.W,H:AX_H,lim:g.preLim[i],xt:g.preXT[i],xd:1,yt:g.preYT[i],yd:g.preYD});
  makeAxes({data:g.rope[i],cmap:maps[i],L:g.cols[i],T:BOT_T,W:g.W,H:AX_H,lim:g.ropeLim[i],xt:g.ropeXT,xd:0,yt:g.ropeYT,yd:g.ropeYD});
  const cb=g.cbars[i];makeCbar(cb[0],329,cb[1],7,maps[i]);
  txt(cbarLabels[i],cb[0]+cb[1]/2,359.3,{fontSize:'7.6px'});
  txt('Value',g.cols[i]+g.W/2,316.5,{fontSize:'9.3px'});
  prompt(promptTexts[i],g.cols[i]+0.5,g.promptY[i]);
 }
 txt('Reward-Forcing',g.title[0],g.title[1],{fontSize:'10.3px'});
 txt('Pre-RoPE',g.ylab[0][0],g.ylab[0][1],{fontSize:'8.6px'},true);
 txt('RoPE-Modulated',g.ylab[1][0],g.ylab[1][1],{fontSize:'8.2px'},true);
 txt(g.cap[0],g.cap[1],g.cap[2],{fontSize:'16.5px',fontFamily:'"Liberation Serif","Times New Roman",serif',color:'#000'});
});
</script>
</body></html>
